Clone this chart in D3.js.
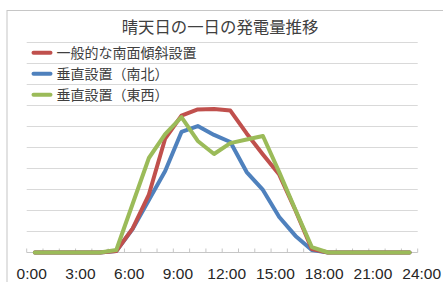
<!DOCTYPE html>
<html>
<head>
<meta charset="utf-8">
<script src="https://cdn.jsdelivr.net/npm/d3@7"></script>
<style>
  body { margin: 0; background: #fff; }
  svg { display: block; }
</style>
</head>
<body>
<div id="chart"></div>
<script>
// categories (one per hour)
var hours = ["0:00","1:00","2:00","3:00","4:00","5:00","6:00","7:00","8:00","9:00","10:00","11:00",
             "12:00","13:00","14:00","15:00","16:00","17:00","18:00","19:00","20:00","21:00","22:00","23:00"];
// axis labels
var tickLabels = ["0:00","3:00","6:00","9:00","12:00","15:00","18:00","21:00","24:00"];
var tickHours = [0, 3, 6, 9, 12, 15, 18, 21, 24];

// series values
var southTilt = [0,0,0,0,0,0.07,1.14,2.76,5.43,6.52,6.81,6.83,6.76,5.67,4.67,3.71,2.0,0.17,0,0,0,0,0,0];
var vertNS    = [0,0,0,0,0,0.07,1.12,2.50,3.88,5.74,6.02,5.60,5.26,3.83,2.98,1.69,0.79,0.12,0,0,0,0,0,0];
var vertEW    = [0,0,0,0,0,0.12,2.31,4.50,5.64,6.45,5.31,4.69,5.21,5.38,5.55,3.83,2.02,0.26,0,0,0,0,0,0];

var seriesNames = ["一般的な南面傾斜設置", "垂直設置（南北）", "垂直設置（東西）"];
var seriesColors = ["#c0504d", "#4f81bd", "#9bbb59"];
var seriesValues = [southTilt, vertNS, vertEW];

var width = 443, height = 282;

var svg = d3.select("#chart")
  .append("svg")
  .attr("width", width)
  .attr("height", height);

// frame
svg.append("rect")
  .attr("x", 7).attr("y", 10.5)
  .attr("width", 460).attr("height", 300)
  .attr("fill", "none")
  .attr("stroke", "#c6c6c6")
  .attr("stroke-width", 1);

// scales
var x = d3.scaleBand()
  .domain(hours)
  .range([26.7, 417.7])
  .padding(0);

var y = d3.scaleLinear()
  .domain([0, 10])
  .range([252.5, 42.5]);

var xLabel = d3.scaleLinear()
  .domain([0, 24])
  .range([31.7, 421.7]);

// grid lines
svg.append("g")
  .selectAll("line")
  .data(d3.range(1, 11))
  .join("line")
  .attr("x1", 26.7).attr("x2", 417.7)
  .attr("y1", function(d) { return y(d); })
  .attr("y2", function(d) { return y(d); })
  .attr("stroke", "#d9d9d9")
  .attr("stroke-width", 1.2);

// baseline + ticks
svg.append("line")
  .attr("x1", 26.7).attr("x2", 417.7)
  .attr("y1", y(0)).attr("y2", y(0))
  .attr("stroke", "#c6c6c6")
  .attr("stroke-width", 1.2);

var boundaries = hours.map(function(h) { return x(h); }).concat([x.range()[1]]);
svg.append("g")
  .selectAll("line")
  .data(boundaries)
  .join("line")
  .attr("x1", function(d) { return d; })
  .attr("x2", function(d) { return d; })
  .attr("y1", y(0) - 4).attr("y2", y(0))
  .attr("stroke", "#c6c6c6")
  .attr("stroke-width", 1);

// x labels
svg.append("g")
  .selectAll("text")
  .data(tickLabels)
  .join("text")
  .attr("x", function(d, i) { return xLabel(tickHours[i]); })
  .attr("y", 279)
  .attr("text-anchor", "middle")
  .style("font-family", "'Liberation Sans Narrow', 'Arial Narrow', sans-serif")
  .style("font-size", "15.5px")
  .style("fill", "#262626")
  .text(function(d) { return d; });

// lines (blue under red, green on top)
var line = d3.line()
  .x(function(d, i) { return x(hours[i]) + x.bandwidth() / 2; })
  .y(function(d) { return y(d); });

[1, 0, 2].forEach(function(k) {
  svg.append("path")
    .datum(seriesValues[k])
    .attr("d", line)
    .attr("fill", "none")
    .attr("stroke", seriesColors[k])
    .attr("stroke-width", 4)
    .attr("stroke-linejoin", "round")
    .attr("stroke-linecap", "round");
});

// title
svg.append("text")
  .attr("x", 220)
  .attr("y", 33)
  .attr("text-anchor", "middle")
  .style("font-family", "'Noto Sans CJK JP', sans-serif")
  .style("font-size", "16.4px")
  .style("fill", "#404040")
  .text("晴天日の一日の発電量推移");

// legend
var legend = svg.append("g")
  .selectAll("g")
  .data(seriesNames)
  .join("g")
  .attr("transform", function(d, i) { return "translate(0," + (52.7 + i * 21) + ")"; });

legend.append("line")
  .attr("x1", 33.5).attr("x2", 50.5)
  .attr("y1", 0).attr("y2", 0)
  .attr("stroke", function(d, i) { return seriesColors[i]; })
  .attr("stroke-width", 4)
  .attr("stroke-linecap", "round");

legend.append("text")
  .attr("x", 56.5)
  .attr("y", 5)
  .style("font-family", "'Noto Sans CJK JP', sans-serif")
  .style("font-size", "14px")
  .style("fill", "#404040")
  .text(function(d) { return d; });
</script>
</body>
</html>
